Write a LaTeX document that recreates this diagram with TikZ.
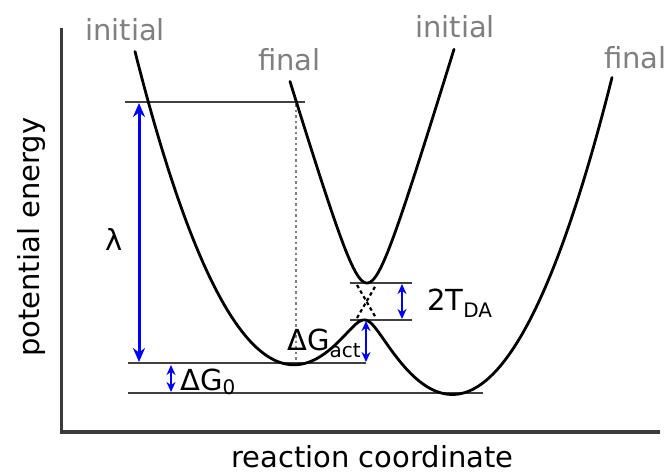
\documentclass[tikz,border=0pt]{standalone}
\usepackage{fontspec}
\setmainfont{DejaVu Sans}
\usetikzlibrary{arrows.meta}
\definecolor{lbl}{HTML}{808080}
\definecolor{axisc}{HTML}{3A3A3A}
\definecolor{hline}{HTML}{404040}
\newcommand{\mybigfnt}{\fontsize{29}{29}\selectfont}
\newcommand{\mysbs}[1]{\raisebox{-7pt}{\fontsize{20}{20}\selectfont #1}}
\begin{document}
\begin{tikzpicture}[x=1pt,y=-1pt,
  declare function={
    ya(\x)=363-1.25*((\x-293)/10)^2;
    yb(\x)=393-1.25*((\x-453)/10)^2;
    lo(\x)=0.5*(ya(\x)+yb(\x))+10*sqrt(((ya(\x)-yb(\x))/20)^2+5.15);
    up(\x)=283-3.3*(10*sqrt(((\x-367)/10)^2+3.24)-18);
  },
  txt/.style={inner sep=0pt, anchor=base west, font=\mybigfnt},
  gtxt/.style={txt, text=lbl},
  curve/.style={line width=2.8pt, black, line cap=round},
  level/.style={line width=2pt, hline},
  barrow/.style={line width=3pt, blue, {Stealth[length=14pt,width=12pt]}-{Stealth[length=14pt,width=12pt]}},
  sarrow/.style={line width=2.6pt, blue, {Stealth[length=10pt,width=9pt]}-{Stealth[length=10pt,width=9pt]}},
  xdash/.style={line width=2.2pt, black, dash pattern=on 3.5pt off 3pt},
  vdot/.style={line width=1.5pt, gray, dash pattern=on 2.5pt off 3pt},
]
\useasboundingbox (0,0) rectangle (668,475);
\fill[white] (0,0) rectangle (668,475);

% axes
\coordinate (ytop) at (61.5,28);
\coordinate (orig) at (61.5,432);
\coordinate (xend) at (660,432);
\draw[line width=3.2pt, axisc] (ytop) -- (orig) -- (xend);

% level lines
\coordinate (h1a) at (125,102); \coordinate (h1b) at (305,102);
\coordinate (h2a) at (128,363); \coordinate (h2b) at (366,363);
\coordinate (h3a) at (128,393); \coordinate (h3b) at (483,393);
\coordinate (h4a) at (350,283); \coordinate (h4b) at (412,283);
\coordinate (h5a) at (350,320); \coordinate (h5b) at (412,320);
\draw[level] (h1a) -- (h1b);
\draw[level] (h2a) -- (h2b);
\draw[level] (h3a) -- (h3b);
\draw[level] (h4a) -- (h4b);
\draw[level] (h5a) -- (h5b);

% dotted vertical
\coordinate (va) at (296,104); \coordinate (vb) at (296,361);
\draw[vdot] (va) -- (vb);

% curves
\draw[curve] plot[domain=135:612, samples=400, smooth] (\x,{lo(\x)});
\draw[curve] plot[domain=290:454, samples=200, smooth] (\x,{up(\x)});

% diabatic crossing
\coordinate (xa1) at (357,318); \coordinate (xa2) at (376,285);
\coordinate (xb1) at (357,285); \coordinate (xb2) at (376,318);
\draw[xdash] (xa1) -- (xa2);
\draw[xdash] (xb1) -- (xb2);

% arrows
\coordinate (la) at (139,103); \coordinate (lb) at (139,362);
\draw[barrow] (la) -- (lb);
\coordinate (ga) at (171,365); \coordinate (gb) at (171,392);
\draw[sarrow] (ga) -- (gb);
\coordinate (aa) at (366,321); \coordinate (ab) at (366,362);
\draw[sarrow] (aa) -- (ab);
\coordinate (ta) at (402,284); \coordinate (tb) at (402,319);
\draw[sarrow] (ta) -- (tb);

% labels
\node[gtxt] (ini1) at (85,40) {initial};
\node[gtxt] (fin1) at (258,70) {final};
\node[gtxt] (ini2) at (415,37) {initial};
\node[gtxt] (fin2) at (604,68) {final};
\node[txt] (lam) at (105,250) {λ};
\node[txt] (dga) at (287,350) {ΔG\mysbs{act}};
\node[txt] (dg0) at (180,390) {ΔG\raisebox{-4pt}{\fontsize{20}{20}\selectfont 0}};
\node[txt] (tda) at (427,310) {2T\mysbs{DA}};
\node[txt] (xlab) at (231,467) {reaction coordinate};
\node[txt, rotate=90] (ylab) at (39,357) {potential energy};
\end{tikzpicture}
\end{document}
